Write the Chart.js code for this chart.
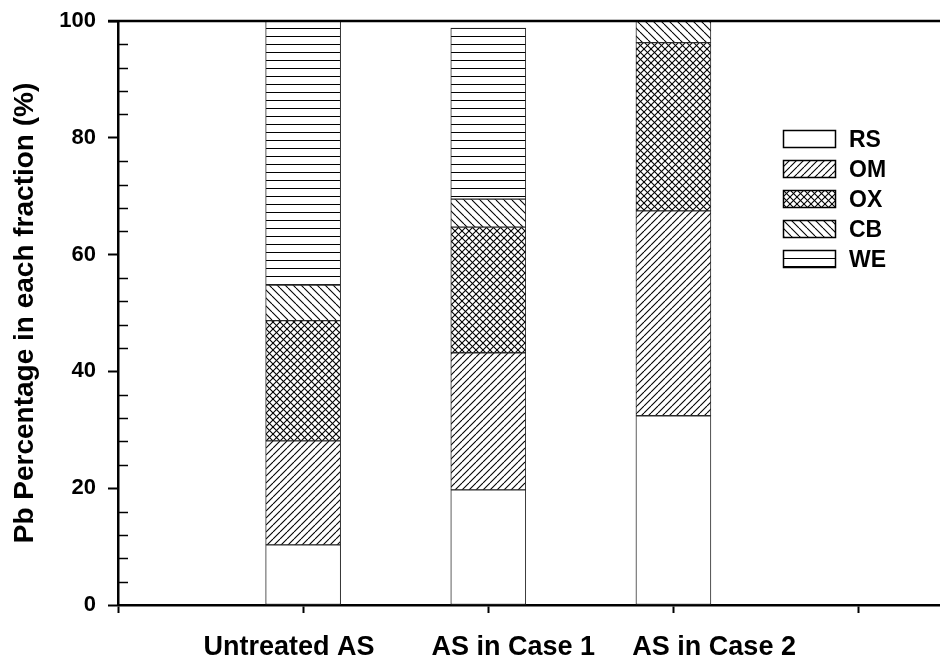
<!DOCTYPE html>
<html>
<head>
<meta charset="utf-8">
<script src="https://cdn.jsdelivr.net/npm/chart.js@4.4.1/dist/chart.umd.min.js"></script>
<style>
  html, body { margin: 0; padding: 0; background: #fff; }
  #wrap { width: 940px; height: 661px; position: relative; }
</style>
</head>
<body>
<div id="wrap"><canvas id="c" width="940" height="661"></canvas></div>
<script>
// Pb fractionation (%) for each sample
const categories = ['Untreated AS', 'AS in Case 1', 'AS in Case 2'];
const fractionNames = ['RS', 'OM', 'OX', 'CB', 'WE'];
const rsValues = [10.3, 19.7, 32.4];
const omValues = [17.8, 23.5, 35.1];
const oxValues = [20.6, 21.5, 28.8];
const cbValues = [6.1, 4.8, 3.7];
const weValues = [45.2, 29.3, 0.0];
const yTickValues = [0, 20, 40, 60, 80, 100];

// layout: bar slots along a numeric x axis, and where each sample name sits
const barSlots = [1, 2, 3];
const nameSlots = [0.924, 2.135, 3.22];
const FONT = '"Liberation Sans", Arial, sans-serif';

function makeHatch(kind) {
  const s = kind === 'OX' ? 7 : (kind === 'OM' ? 7 : 8);
  const c = document.createElement('canvas');
  c.width = s; c.height = s;
  const g = c.getContext('2d');
  g.fillStyle = '#fff';
  g.fillRect(0, 0, s, s);
  g.strokeStyle = '#000';
  g.lineWidth = 1.1;
  const fwd = () => {
    for (const k of [-s, 0, s]) { g.beginPath(); g.moveTo(k, s); g.lineTo(k + s, 0); g.stroke(); }
  };
  const back = () => {
    for (const k of [-s, 0, s]) { g.beginPath(); g.moveTo(k, 0); g.lineTo(k + s, s); g.stroke(); }
  };
  if (kind === 'OM') fwd();
  if (kind === 'OX') { fwd(); back(); }
  if (kind === 'CB') back();
  if (kind === 'WE') { g.lineWidth = 1; g.beginPath(); g.moveTo(0, 4.5); g.lineTo(s, 4.5); g.stroke(); }
  if (kind === 'RS') return '#ffffff';
  return document.getElementById('c').getContext('2d').createPattern(c, 'repeat');
}

const seriesValues = [rsValues, omValues, oxValues, cbValues, weValues];
const datasets = fractionNames.map((name, k) => ({
  label: name,
  data: seriesValues[k].map((v, i) => ({ x: barSlots[i], y: v })),
  backgroundColor: makeHatch(name),
  borderColor: '#2a2a2a',
  borderWidth: 1,
  borderSkipped: false,
  barThickness: 75
}));

const decor = {
  id: 'decor',
  afterDraw(chart) {
    const ctx = chart.ctx;
    const a = chart.chartArea;
    const xs = chart.scales.x, ys = chart.scales.y;
    ctx.save();
    // top frame line with its outward tick
    ctx.strokeStyle = '#000';
    ctx.lineWidth = 2.5;
    ctx.beginPath();
    ctx.moveTo(a.left - 10, a.top);
    ctx.lineTo(a.right, a.top);
    ctx.stroke();
    // inward minor ticks on the y axis
    ctx.lineWidth = 1.5;
    for (let v = 4; v < 100; v += 4) {
      if (v % 20 === 0) continue;
      const y = Math.round(ys.getPixelForValue(v)) + 0.5;
      ctx.beginPath();
      ctx.moveTo(a.left, y);
      ctx.lineTo(a.left + 10, y);
      ctx.stroke();
    }
    // sample names under the axis
    ctx.fillStyle = '#000';
    ctx.font = 'bold 27px ' + FONT;
    ctx.textAlign = 'center';
    ctx.textBaseline = 'alphabetic';
    categories.forEach((name, i) => {
      ctx.fillText(name, xs.getPixelForValue(nameSlots[i]), 655);
    });
    // legend
    const bx = 783, by = 130, bw = 52, bh = 17, step = 30;
    ctx.font = 'bold 23px ' + FONT;
    ctx.textAlign = 'left';
    chart.data.datasets.forEach((ds, i) => {
      const y = by + i * step;
      ctx.save();
      ctx.translate(bx, y - (ds.label === 'WE' ? 4 : 0));
      ctx.fillStyle = ds.backgroundColor;
      ctx.fillRect(0, ds.label === 'WE' ? 4 : 0, bw, bh);
      ctx.restore();
      ctx.strokeStyle = '#000';
      ctx.lineWidth = 1.5;
      ctx.strokeRect(bx + 0.5, y + 0.5, bw, bh);
      ctx.fillStyle = '#000';
      ctx.fillText(ds.label, 849, y + bh);
    });
    ctx.restore();
  }
};

new Chart(document.getElementById('c'), {
  type: 'bar',
  data: { datasets },
  plugins: [decor],
  options: {
    responsive: false,
    animation: false,
    devicePixelRatio: 1,
    layout: { padding: { top: 21, right: 0, left: 0, bottom: 0 } },
    plugins: { legend: { display: false }, tooltip: { enabled: false } },
    scales: {
      x: {
        type: 'linear',
        min: 0,
        max: 4.44,
        stacked: true,
        offset: false,
        grid: { offset: false, drawOnChartArea: false, drawTicks: true, tickLength: 8, tickColor: '#000', tickWidth: 2 },
        border: { display: true, color: '#000', width: 2.5 },
        ticks: { stepSize: 1, includeBounds: false, callback: () => '' },
        afterFit: s => { s.height = 56; s.paddingLeft = 0; s.paddingRight = 0; }
      },
      y: {
        min: 0,
        max: 100,
        stacked: true,
        afterBuildTicks: s => { s.ticks = yTickValues.map(v => ({ value: v })); },
        grid: { offset: false, drawOnChartArea: false, drawTicks: true, tickLength: 10, tickColor: '#000', tickWidth: 2 },
        border: { display: true, color: '#000', width: 2.5 },
        ticks: { color: '#000', padding: 12, font: { family: FONT, size: 22, weight: 'bold' } },
        title: {
          display: true,
          text: 'Pb Percentage in each fraction (%)',
          color: '#000',
          font: { family: FONT, size: 28, weight: 'bold' },
          padding: { top: 8, bottom: 0 }
        },
        afterFit: s => { s.width = 118; s.paddingTop = 0; s.paddingBottom = 0; }
      }
    }
  }
});
</script>
</body>
</html>
